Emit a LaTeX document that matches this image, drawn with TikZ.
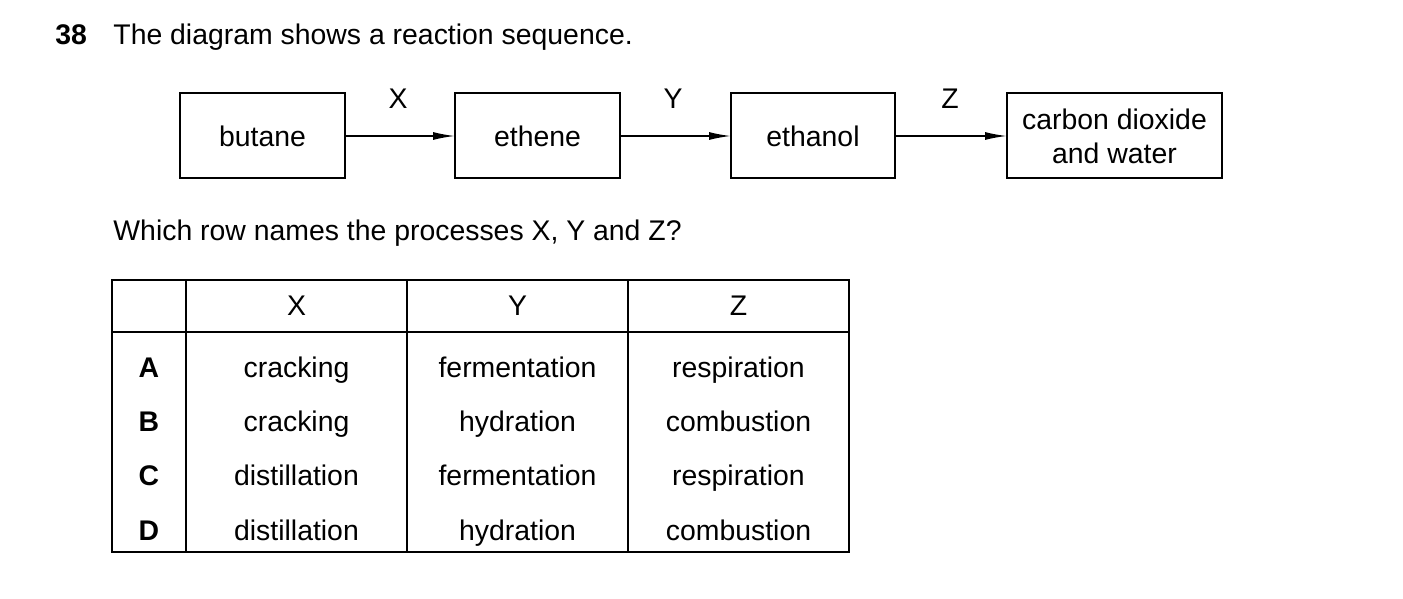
\documentclass[tikz,border=0pt]{standalone}
\usepackage{fontspec}
\setmainfont{Liberation Sans}
\usetikzlibrary{arrows.meta}
\begin{document}
\begin{tikzpicture}[x=0.5pt,y=-0.5pt,
  txt/.style={inner sep=0pt,font=\fontsize{14.2}{17}\selectfont},
  cell/.style={txt,anchor=base},
  arr/.style={line width=0.8pt,-{Latex[length=11pt,width=4pt]}}]
\useasboundingbox (0,0) rectangle (1403,599);
\node[txt,anchor=base west] (num) at (55,45) {\textbf{38}};
\node[txt,anchor=base west] (title) at (113,45) {The diagram shows a reaction sequence.};
\draw[line width=1pt] (180,93) rectangle (345,178);
\node[txt] (bt) at (262.5,136) {butane};
\draw[line width=1pt] (455,93) rectangle (620,178);
\node[txt] (et) at (537.5,136) {ethene};
\draw[line width=1pt] (731,93) rectangle (895,178);
\node[txt] (eo) at (813,136) {ethanol};
\draw[line width=1pt] (1007,93) rectangle (1222,178);
\node[txt,align=center] (cd) at (1114.5,136) {carbon dioxide\\and water};
\coordinate (a1) at (345,136); \coordinate (a2) at (455,136);
\coordinate (a3) at (620,136); \coordinate (a4) at (731,136);
\coordinate (a5) at (895,136); \coordinate (a6) at (1007,136);
\draw[arr] (a1) -- (a2); \draw[arr] (a3) -- (a4); \draw[arr] (a5) -- (a6);
\node[cell] (lx) at (398,109) {X};
\node[cell] (ly) at (673,109) {Y};
\node[cell] (lz) at (950,109) {Z};
\node[txt,anchor=base west] (q) at (113,240) {Which row names the processes X, Y and Z?};
\draw[line width=1pt] (112,280) rectangle (849,552);
\draw[line width=1pt] (112,332) -- (849,332);
\foreach \x in {186,407,628} \draw[line width=1pt] (\x,280) -- (\x,552);
\node[cell] (hx) at (296.5,315) {X};
\node[cell] (hy) at (517.5,315) {Y};
\node[cell] (hz) at (738.5,315) {Z};
\foreach \y/\l/\a/\b/\c in {377/A/cracking/fermentation/respiration,431/B/cracking/hydration/combustion,485/C/distillation/fermentation/respiration,540/D/distillation/hydration/combustion}{
  \node[cell] at (149,\y) {\textbf{\l}};
  \node[cell] at (296.5,\y) {\a};
  \node[cell] at (517.5,\y) {\b};
  \node[cell] at (738.5,\y) {\c};
}
\end{tikzpicture}
\end{document}
